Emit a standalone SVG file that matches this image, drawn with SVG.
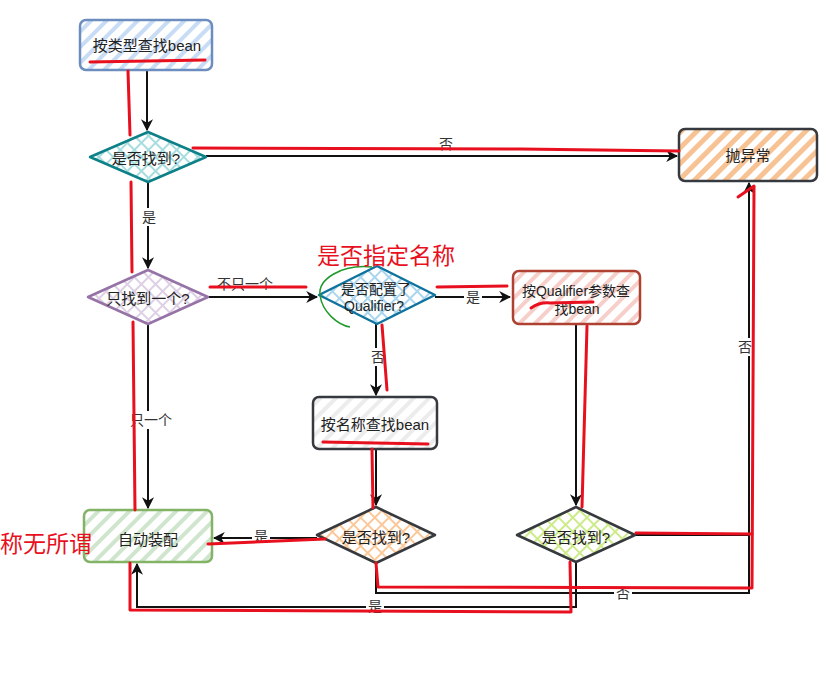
<svg xmlns="http://www.w3.org/2000/svg" width="831" height="699" viewBox="0 0 831 699">
<defs>
<style>
text{font-family:"Liberation Sans","Noto Sans CJK SC",sans-serif;font-size:15px;fill:#222;text-anchor:middle;dominant-baseline:central}
.sm{font-size:14px}
.lbl{font-size:14px;fill:#333}
.edge{fill:none;stroke:#111;stroke-width:2}
.red{fill:none;stroke:#e8101e;stroke-width:3;stroke-linecap:round;stroke-linejoin:round}
.node{stroke-width:2.5;stroke-linejoin:round}
.bg{fill:#fff;stroke:none}
.note{fill:#e8101e;font-size:23px;text-anchor:start;dominant-baseline:auto}
</style>
<marker id="arr" viewBox="0 0 10 10" refX="9" refY="5" markerWidth="12" markerHeight="12" markerUnits="userSpaceOnUse" orient="auto"><path d="M0,0 L10,5 L0,10 L3,5 Z" fill="#111"/></marker>
<pattern id="hBlue" width="11" height="11" patternUnits="userSpaceOnUse" patternTransform="rotate(45)"><rect width="11" height="11" fill="#fff"/><rect width="4" height="11" fill="#c9dcf5"/></pattern>
<pattern id="hOrange" width="11" height="11" patternUnits="userSpaceOnUse" patternTransform="rotate(45)"><rect width="11" height="11" fill="#fff"/><rect width="5" height="11" fill="#f8c394"/></pattern>
<pattern id="hRed" width="11" height="11" patternUnits="userSpaceOnUse" patternTransform="rotate(45)"><rect width="11" height="11" fill="#fff"/><rect width="4" height="11" fill="#f7cfca"/></pattern>
<pattern id="hGray" width="11" height="11" patternUnits="userSpaceOnUse" patternTransform="rotate(45)"><rect width="11" height="11" fill="#fff"/><rect width="4" height="11" fill="#ececec"/></pattern>
<pattern id="hGreen" width="11" height="11" patternUnits="userSpaceOnUse" patternTransform="rotate(45)"><rect width="11" height="11" fill="#fff"/><rect width="4" height="11" fill="#cfe5cd"/></pattern>
<pattern id="xTeal" width="10" height="10" patternUnits="userSpaceOnUse" patternTransform="rotate(45)"><rect width="10" height="10" fill="#fff"/><rect width="2" height="10" fill="#a8dde0"/><rect width="10" height="2" fill="#a8dde0"/></pattern>
<pattern id="xPurple" width="10" height="10" patternUnits="userSpaceOnUse" patternTransform="rotate(45)"><rect width="10" height="10" fill="#fff"/><rect width="2" height="10" fill="#ddd0e4"/><rect width="10" height="2" fill="#ddd0e4"/></pattern>
<pattern id="xBlue" width="10" height="10" patternUnits="userSpaceOnUse" patternTransform="rotate(45)"><rect width="10" height="10" fill="#fff"/><rect width="2" height="10" fill="#a9d6ee"/><rect width="10" height="2" fill="#a9d6ee"/></pattern>
<pattern id="xOrange" width="10" height="10" patternUnits="userSpaceOnUse" patternTransform="rotate(45)"><rect width="10" height="10" fill="#fff"/><rect width="2" height="10" fill="#fbc999"/><rect width="10" height="2" fill="#fbc999"/></pattern>
<pattern id="xGreen" width="10" height="10" patternUnits="userSpaceOnUse" patternTransform="rotate(45)"><rect width="10" height="10" fill="#fff"/><rect width="2" height="10" fill="#cdeb8b"/><rect width="10" height="2" fill="#cdeb8b"/></pattern>
</defs>
<rect width="831" height="699" fill="#fff"/>

<g id="connectors">
<path class="edge" d="M147,70 L147,130" marker-end="url(#arr)"/>
<path class="edge" d="M206,156 L677,156" marker-end="url(#arr)"/>
<text class="lbl" x="446" y="144">否</text>
<path class="edge" d="M148,182 L148,268" marker-end="url(#arr)"/>
<rect class="bg" x="140" y="208" width="18" height="18"/>
<text class="lbl" x="149" y="217">是</text>
<path class="edge" d="M208,297 L317,297" marker-end="url(#arr)"/>
<text class="lbl" x="245" y="284">不只一个</text>
<path class="edge" d="M148,324 L148,508" marker-end="url(#arr)"/>
<rect class="bg" x="127" y="411" width="46" height="18"/>
<text class="lbl" x="151" y="420">只一个</text>
<path class="edge" d="M435,297 L510,297" marker-end="url(#arr)"/>
<rect class="bg" x="464" y="288" width="18" height="18"/>
<text class="lbl" x="473" y="297">是</text>
<path class="edge" d="M376,324 L376,395" marker-end="url(#arr)"/>
<rect class="bg" x="369" y="348" width="18" height="18"/>
<text class="lbl" x="378" y="357">否</text>
<path class="edge" d="M317,538 L214,538" marker-end="url(#arr)"/>
<rect class="bg" x="252" y="528" width="18" height="17"/>
<text class="lbl" x="261" y="536">是</text>
<path class="edge" d="M376,449 L376,505" marker-end="url(#arr)"/>
<path class="edge" d="M576,324 L576,505" marker-end="url(#arr)"/>
<path class="edge" d="M635,535 L749,535 L749,183" marker-end="url(#arr)"/>
<rect class="bg" x="736" y="338" width="18" height="18"/>
<text class="lbl" x="745" y="347">否</text>
<path class="edge" d="M376,563 L376,593 L749,593 L749,535"/>
<rect class="bg" x="614" y="584" width="18" height="18"/>
<text class="lbl" x="623" y="593">否</text>
<path class="edge" d="M576,562 L576,607 L137,607 L137,564" marker-end="url(#arr)"/>
<rect class="bg" x="366" y="598" width="18" height="17"/>
<text class="lbl" x="375" y="606">是</text>
</g>

<g id="n1">
<rect class="node" x="80" y="20" width="132" height="50" rx="6" fill="url(#hBlue)" stroke="#6c8ebf"/>
<text x="147" y="45">按类型查找bean</text>
</g>
<g id="n2">
<polygon class="node" points="90,157 148,132 206,157 148,182" fill="url(#xTeal)" stroke="#0e8088"/>
<text x="146" y="158">是否找到?</text>
</g>
<g id="n3">
<rect class="node" x="679" y="129" width="138" height="52" rx="6" fill="url(#hOrange)" stroke="#36393d"/>
<text x="748" y="155">抛异常</text>
</g>
<g id="n4">
<polygon class="node" points="88,297 148,270 208,297 148,324" fill="url(#xPurple)" stroke="#9673a6"/>
<text x="148" y="298">只找到一个?</text>
</g>
<g id="n5">
<polygon class="node" points="319,295 377,266 435,295 377,324" fill="url(#xBlue)" stroke="#10739e"/>
<text class="sm" x="376" y="289">是否配置了</text>
<text class="sm" x="374" y="306">Qualifier?</text>
</g>
<g id="n6">
<rect class="node" x="513" y="271" width="127" height="53" rx="6" fill="url(#hRed)" stroke="#ae4132"/>
<text class="sm" x="576" y="291">按Qualifier参数查</text>
<text class="sm" x="577" y="309">找bean</text>
</g>
<g id="n7">
<rect class="node" x="313" y="397" width="124" height="52" rx="6" fill="url(#hGray)" stroke="#36393d"/>
<text x="375" y="424">按名称查找bean</text>
</g>
<g id="n8">
<polygon class="node" points="317,535 376,507 435,535 376,563" fill="url(#xOrange)" stroke="#36393d"/>
<text x="376" y="537">是否找到?</text>
</g>
<g id="n9">
<polygon class="node" points="517,535 576,507 635,535 576,562" fill="url(#xGreen)" stroke="#36393d"/>
<text x="576" y="537">是否找到?</text>
</g>
<g id="n10">
<rect class="node" x="84" y="510" width="128" height="52" rx="6" fill="url(#hGreen)" stroke="#82b366"/>
<text x="148" y="539">自动装配</text>
</g>

<g id="annotations">
<path class="red" d="M90,62 L205,60"/>
<path class="red" d="M128,71 L130,135"/>
<path class="red" d="M131,182 L132,272"/>
<path class="red" d="M133,322 L135,510"/>
<path class="red" d="M193,148 L520,149 L679,151"/>
<path class="red" d="M210,287 L306,287"/>
<path class="red" d="M437,287 L507,286"/>
<path class="red" d="M382,325 L387,390"/>
<path class="red" d="M323,442 L428,444"/>
<path class="red" d="M372,449 L373,508"/>
<path class="red" d="M531,308 Q540,302 550,303 L593,302"/>
<path class="red" d="M587,326 L582,507"/>
<path class="red" d="M325,539 L208,544"/>
<path class="red" d="M636,533 L752,534"/>
<path class="red" d="M376,563 L378,587 L752,588 L754,187"/>
<path class="red" d="M738,197 L754,186"/>
<path class="red" d="M570,562 L571,612 L130,610 L130,563"/>
<path d="M372,267 C340,264 318,280 320,295 C322,312 338,325 350,327" fill="none" stroke="#1f9a2a" stroke-width="1.5"/>
<text class="note" x="317" y="264">是否指定名称</text>
<text class="note" x="0" y="552">称无所谓</text>
</g>
</svg>
